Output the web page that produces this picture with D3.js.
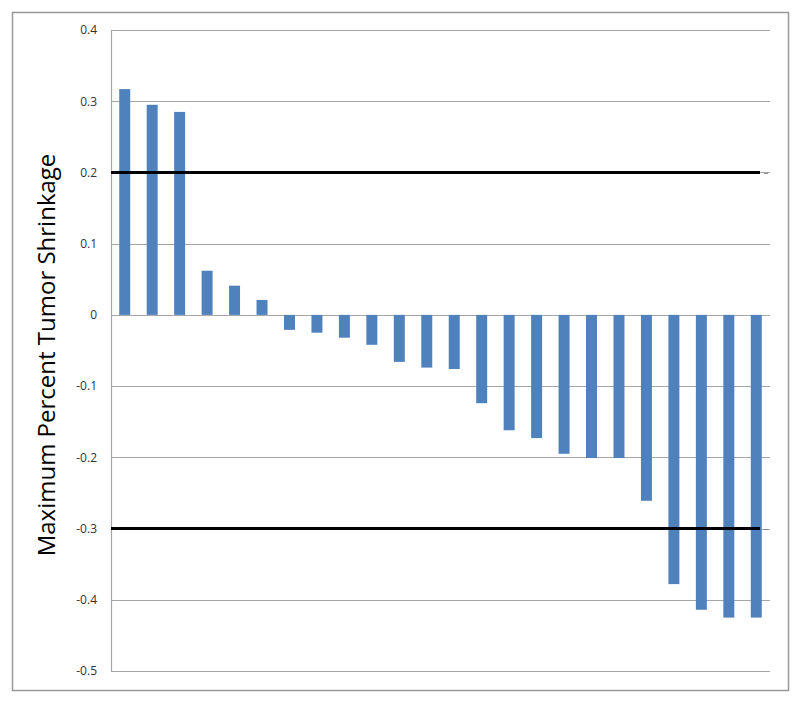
<!DOCTYPE html>
<html>
<head>
  <meta charset="utf-8">
  <style>
    body { margin: 0; background: #fff; }
    .tick text { font-family: "Open Sans", "DejaVu Sans", sans-serif; font-size: 12px; fill: #333; }
  </style>
</head>
<body>
<script src="https://d3js.org/d3.v7.min.js"></script>
<script>
// patients, sorted by response
const patients = d3.range(1, 25).map(String);
const shrinkage = [0.317, 0.295, 0.285, 0.062, 0.041, 0.021, -0.021, -0.025, -0.032, -0.042,
  -0.066, -0.074, -0.076, -0.124, -0.162, -0.173, -0.195, -0.201, -0.201, -0.261,
  -0.378, -0.414, -0.425, -0.425];
const yTicks = [0.4, 0.3, 0.2, 0.1, 0, -0.1, -0.2, -0.3, -0.4, -0.5];
const thresholds = [0.2, -0.3];

const width = 800, height = 702;
const margin = { top: 30, right: 30, bottom: 31, left: 111 };

const svg = d3.select("body").append("svg")
  .attr("width", width)
  .attr("height", height);

// outer frame
svg.append("rect")
  .attr("x", 12.5).attr("y", 12.5)
  .attr("width", 776).attr("height", 678)
  .attr("fill", "none")
  .attr("stroke", "#999")
  .attr("stroke-width", 1.5);

const x = d3.scaleBand()
  .domain(patients)
  .range([margin.left, width - margin.right])
  .paddingInner(0.6)
  .paddingOuter(0.3);

const y = d3.scaleLinear()
  .domain([-0.5, 0.4])
  .range([height - margin.bottom, margin.top]);

// gridlines
svg.append("g")
  .selectAll("line")
  .data(yTicks)
  .join("line")
  .attr("x1", margin.left)
  .attr("x2", width - margin.right)
  .attr("y1", d => Math.round(y(d)) + 0.5)
  .attr("y2", d => Math.round(y(d)) + 0.5)
  .attr("stroke", "#a6a6a6")
  .attr("stroke-width", 1.2);

// y axis, plain hyphen for negatives like the original
const yAxis = svg.append("g")
  .attr("transform", `translate(${margin.left - 14},0)`)
  .call(d3.axisLeft(y).tickValues(yTicks).tickSize(0).tickPadding(0)
    .tickFormat(d => d === 0 ? "0" : String(d)));
yAxis.select(".domain").remove();

svg.append("line")
  .attr("x1", margin.left + 0.5).attr("x2", margin.left + 0.5)
  .attr("y1", y(0.4)).attr("y2", y(-0.5))
  .attr("stroke", "#a6a6a6")
  .attr("stroke-width", 1.2);

// bars
svg.append("g")
  .selectAll("rect")
  .data(shrinkage)
  .join("rect")
  .attr("x", (d, i) => x(patients[i]))
  .attr("width", x.bandwidth())
  .attr("y", d => y(Math.max(0, d)))
  .attr("height", d => Math.abs(y(d) - y(0)))
  .attr("fill", "#4f81bd");

// threshold lines
svg.append("g")
  .selectAll("line")
  .data(thresholds)
  .join("line")
  .attr("x1", margin.left)
  .attr("x2", width - margin.right - 10)
  .attr("y1", d => y(d))
  .attr("y2", d => y(d))
  .attr("stroke", "#000")
  .attr("stroke-width", 3);

svg.append("g")
  .selectAll("line")
  .data(thresholds)
  .join("line")
  .attr("x1", width - margin.right - 6)
  .attr("x2", width - margin.right - 2)
  .attr("y1", d => y(d) + 1)
  .attr("y2", d => y(d) + 1)
  .attr("stroke", "#888")
  .attr("stroke-width", 1);

// y label
svg.append("text")
  .attr("transform", `translate(55,355) rotate(-90)`)
  .attr("text-anchor", "middle")
  .attr("font-family", "'Open Sans', 'DejaVu Sans', sans-serif")
  .attr("font-size", 24)
  .attr("fill", "#000")
  .text("Maximum Percent Tumor Shrinkage");
</script>
</body>
</html>
